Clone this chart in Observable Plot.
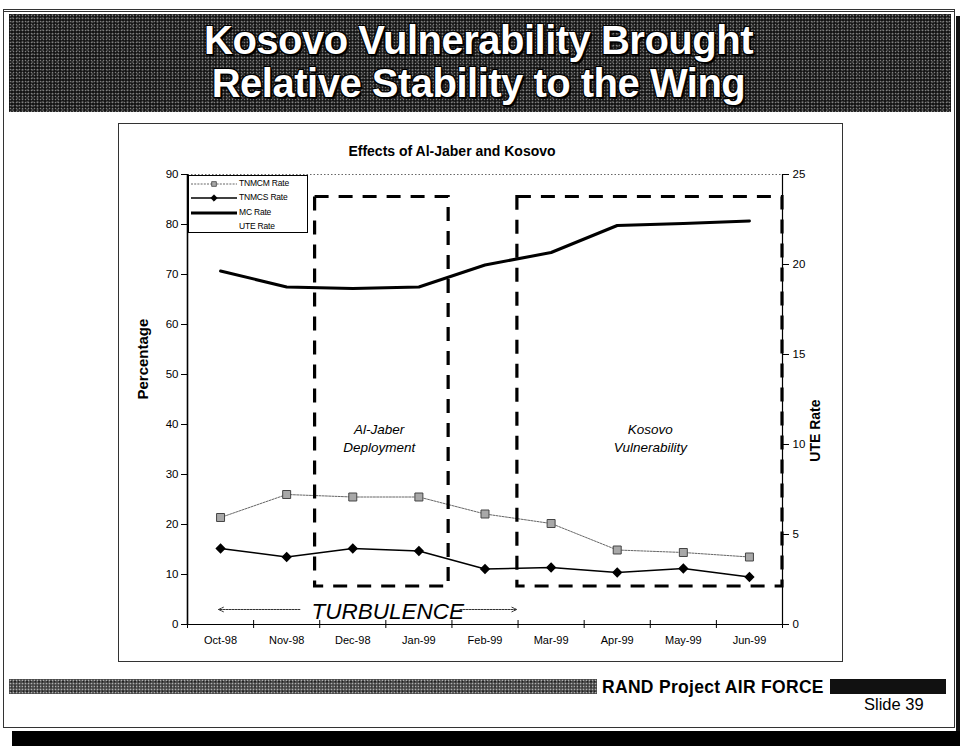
<!DOCTYPE html>
<html><head><meta charset="utf-8">
<script src="https://cdn.jsdelivr.net/npm/d3@7"></script>
<script src="https://cdn.jsdelivr.net/npm/@observablehq/plot@0.6"></script>
<style>
html,body{margin:0;padding:0;background:#fff;width:960px;height:746px;overflow:hidden;font-family:"Liberation Sans",Arial,sans-serif;}
.abs{position:absolute;}
#slide{left:3px;top:9px;width:952px;height:719px;border:1px solid #333;border-top:3px double #333;box-sizing:border-box;}
#shadowB{left:12px;top:731px;width:948px;height:15px;background:#000;}
#shadowR{left:956px;top:16px;width:4px;height:718px;background:#111;}
#banner{left:9px;top:14px;width:942px;height:98px;background-color:#141414;
  background-image:radial-gradient(circle,#808080 0.6px,transparent 1.1px),radial-gradient(circle,#4a4a4a 0.9px,transparent 1.3px);
  background-size:3px 3px,5px 4px;background-position:0 0,1px 2px;}
#title{left:0;top:19px;width:957px;text-align:center;color:#fff;font-weight:bold;font-size:40px;line-height:43px;letter-spacing:-0.5px;
  text-shadow:-1px -1px 0 #000,1px -1px 0 #000,-1px 1px 0 #000,1px 1px 0 #000,2px 2px 1px #000;}
#box{left:118px;top:123px;width:725px;height:539px;border:1px solid #333;box-sizing:border-box;}
#ctitle{left:118px;top:143px;width:668px;text-align:center;font-weight:bold;font-size:14px;}
#chart{left:117px;top:123px;}
#legend{left:188px;top:175px;width:120px;height:58px;border:1px solid #000;box-sizing:border-box;background:#fff;font-size:8.5px;}
#legend div{position:absolute;left:0;height:14px;width:118px;}
#legend svg{position:absolute;left:1px;top:0;}
#legend span{position:absolute;left:50px;top:1px;letter-spacing:-0.2px;}
#footband{left:9px;top:679px;width:588px;height:15px;background-color:#4a4a4a;
  background-image:radial-gradient(circle,#b0b0b0 0.7px,transparent 1.1px),radial-gradient(circle,#222 0.9px,transparent 1.3px);
  background-size:3px 3px,4px 5px;}
#rand{left:602px;top:677px;font-weight:bold;font-size:17.5px;letter-spacing:0.3px;}
#footblock{left:830px;top:679px;width:116px;height:15px;background:#111;}
#slidenum{left:864px;top:695px;font-size:16.5px;}
</style></head>
<body>
<div id="slide" class="abs"></div>
<div id="shadowR" class="abs"></div>
<div id="shadowB" class="abs"></div>
<div id="banner" class="abs"></div>
<div id="title" class="abs">Kosovo Vulnerability Brought<br>Relative Stability to the Wing</div>
<div id="box" class="abs"></div>
<div id="ctitle" class="abs">Effects of Al-Jaber and Kosovo</div>
<div id="chart" class="abs"></div>
<div id="legend" class="abs"></div>
<div id="footband" class="abs"></div>
<div id="rand" class="abs">RAND Project AIR FORCE</div>
<div id="footblock" class="abs"></div>
<div id="slidenum" class="abs">Slide 39</div>
<script>
// ---- data ----
const months = ["Oct-98","Nov-98","Dec-98","Jan-99","Feb-99","Mar-99","Apr-99","May-99","Jun-99"];
const tnmcmRate = [21.4, 26.0, 25.5, 25.5, 22.1, 20.2, 14.9, 14.4, 13.5];
const tnmcsRate = [15.2, 13.5, 15.2, 14.7, 11.1, 11.4, 10.4, 11.2, 9.5];
const mcRate = [70.7, 67.5, 67.2, 67.5, 71.9, 74.4, 79.8, 80.2, 80.7];
const seriesNames = ["TNMCM Rate","TNMCS Rate","MC Rate","UTE Rate"];
const percentTicks = [0,10,20,30,40,50,60,70,80,90];
const uteTicks = [0,5,10,15,20,25];
// annotation boxes (x in month index, y in percent)
const boxLabels = ["Al-Jaber\nDeployment","Kosovo\nVulnerability"];
const boxStart = [1.43, 4.49];
const boxEnd = [3.45, 8.5];
const boxLow = [7.6, 7.6];
const boxHigh = [85.5, 85.5];
const boxLabelX = [2.4, 6.5];
const boxLabelY = [37.4, 37.4];
const turbulenceLabel = "TURBULENCE";
const turbulenceX = 2.53, turbulenceY = 2.6;
const arrowFrom = [1.2, 3.62];
const arrowTo = [-0.03, 4.48];
const arrowY = 3.0;

// ---- build ----
const idx = d3.range(months.length);
const boxes = boxStart.map((s,i)=>({x1:s,x2:boxEnd[i],y1:boxLow[i],y2:boxHigh[i],label:boxLabels[i],lx:boxLabelX[i],ly:boxLabelY[i]}));
const arrows = arrowFrom.map((f,i)=>({x1:f,x2:arrowTo[i],y:arrowY}));
const uteMax = 25, pctMax = 90;

const chart = Plot.plot({
  width:725, height:539,
  marginLeft:70, marginRight:60, marginTop:51, marginBottom:38,
  style:{fontFamily:"Liberation Sans, Arial, sans-serif", fontSize:"11px", background:"transparent", color:"#000", overflow:"visible"},
  x:{domain:[-0.5, 8.5]},
  y:{domain:[0, pctMax]},
  marks:[
    Plot.frame({stroke:"#666", strokeDasharray:"1.5,2", strokeWidth:1}),
    Plot.ruleY([0], {stroke:"#000", strokeWidth:1.2}),
    Plot.ruleX([-0.5], {stroke:"#000", strokeWidth:1.6}),
    Plot.ruleX([8.5], {stroke:"#000", strokeWidth:1.2}),
    Plot.axisY(percentTicks, {anchor:"left", tickSize:6, tickPadding:3, label:null, fontSize:11.5}),
    Plot.axisY(uteTicks.map(v=>v*pctMax/uteMax), {anchor:"right", tickSize:6, tickPadding:4, label:null, tickFormat:d=>Math.round(d*uteMax/pctMax), fontSize:11.5}),
    Plot.axisX(idx, {anchor:"bottom", tickSize:0, tickPadding:12, label:null, tickFormat:i=>months[i], fontSize:11}),
    Plot.axisX(d3.range(-0.5, 9, 1), {anchor:"bottom", tickSize:8, tickFormat:()=>"", label:null, dy:-4}),
    Plot.text(["Percentage"], {frameAnchor:"left", rotate:-90, dx:-44, fontWeight:"bold", fontSize:15}),
    Plot.text(["UTE Rate"], {frameAnchor:"right", rotate:-90, dx:33, fontWeight:"bold", fontSize:14}),
    // series
    Plot.line(idx, {x:i=>i, y:i=>mcRate[i], stroke:"#000", strokeWidth:3, strokeLinejoin:"round"}),
    Plot.line(idx, {x:i=>i, y:i=>tnmcmRate[i], stroke:"#666", strokeWidth:1, strokeDasharray:"2,1.2"}),
    Plot.dot(idx, {x:i=>i, y:i=>tnmcmRate[i], symbol:"square", r:4.5, fill:"#a8a8a8", stroke:"#444", strokeWidth:1}),
    Plot.line(idx, {x:i=>i, y:i=>tnmcsRate[i], stroke:"#000", strokeWidth:1.6}),
    Plot.dot(idx, {x:i=>i, y:i=>tnmcsRate[i], symbol:"diamond2", r:3.7, fill:"#000", stroke:"#000"}),
    // annotations
    Plot.rect(boxes, {x1:"x1", x2:"x2", y1:"y1", y2:"y2", fill:"none", stroke:"#000", strokeWidth:3.2, strokeDasharray:"14,10"}),
    Plot.text(boxes, {x:"lx", y:"ly", text:"label", fontStyle:"italic", fontSize:13.5, lineHeight:1.3}),
    Plot.text([turbulenceLabel], {x:()=>turbulenceX, y:()=>turbulenceY, fontStyle:"italic", fontSize:22.5}),
    Plot.arrow(arrows, {x1:"x1", x2:"x2", y1:"y", y2:"y", stroke:"#333", strokeWidth:1, strokeDasharray:"2,1", headLength:8, headAngle:50})
  ]
});
document.getElementById("chart").appendChild(chart);

// legend (HTML)
const legend = d3.select("#legend");
const styles = [
  {stroke:"#666", w:1, dash:"2,1.2", sym:"square"},
  {stroke:"#000", w:1.6, dash:null, sym:"diamond"},
  {stroke:"#000", w:3, dash:null, sym:null},
  {stroke:"none", w:0, dash:null, sym:null}
];
seriesNames.forEach((name,i)=>{
  const row = legend.append("div").style("top", (1 + i*14.3) + "px");
  const svg = row.append("svg").attr("width",48).attr("height",14);
  const s = styles[i];
  if (s.stroke !== "none") svg.append("line").attr("x1",1).attr("x2",47).attr("y1",7).attr("y2",7).attr("stroke",s.stroke).attr("stroke-width",s.w).attr("stroke-dasharray",s.dash);
  if (s.sym) svg.append("path").attr("transform","translate(24,7)").attr("d", d3.symbol(s.sym==="square"?d3.symbolSquare:d3.symbolDiamond2, s.sym==="square"?22:26)())
     .attr("fill", s.sym==="square"?"#a8a8a8":"#000").attr("stroke", s.sym==="square"?"#444":"#000").attr("stroke-width",0.8);
  row.append("span").text(name);
});
</script>
</body></html>
